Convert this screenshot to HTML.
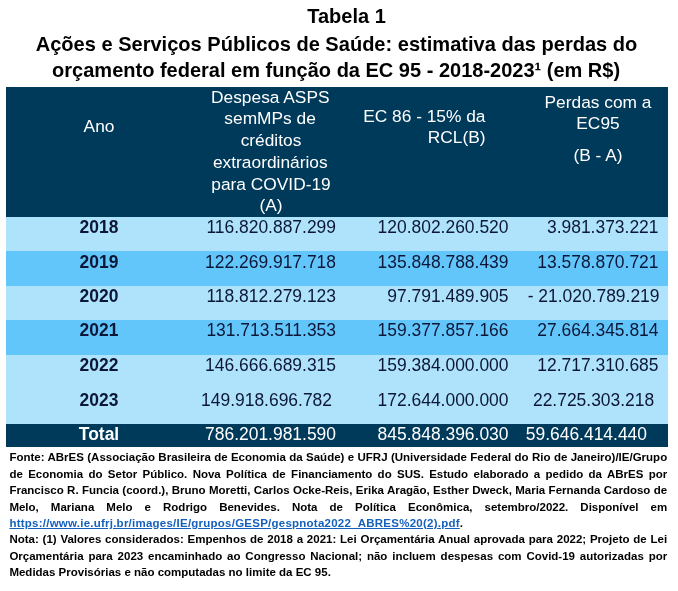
<!DOCTYPE html>
<html lang="pt-BR"><head><meta charset="utf-8"><title>Tabela 1</title>
<style>
html,body{margin:0;padding:0;background:#fff;}
body{width:678px;height:591px;position:relative;overflow:hidden;font-family:"Liberation Sans",Arial,sans-serif;}
.abs{position:absolute;white-space:nowrap;}
.title{font-weight:bold;font-size:20px;line-height:24px;color:#000;text-align:center;left:0;width:673px;}
.bg{position:absolute;left:6px;width:662px;}
.h{color:#fff;font-size:17.33px;line-height:21.6px;text-align:center;}
.n{color:#0c1738;font-size:17.45px;line-height:20px;text-align:right;}
.y{color:#0c1738;font-size:17.45px;line-height:20px;font-weight:bold;text-align:center;left:6px;width:186px;}
.w{color:#fff;}
.f{font-family:"Liberation Sans",Arial,sans-serif;font-weight:bold;font-size:11.5px;line-height:16px;color:#000;left:9.4px;width:657.8px;text-align:justify;text-align-last:justify;}
.f.l{text-align:left;text-align-last:left;}
.f a{color:#1560bd;text-decoration:underline;}
.f.u{letter-spacing:0.24px;}
</style></head><body>

<div class="abs title" style="top:3.7px;left:10px">Tabela 1</div>
<div class="abs title" style="top:31.7px;left:0px;font-size:20.06px">Ações e Serviços Públicos de Saúde: estimativa das perdas do</div>
<div class="abs title" style="top:58.2px;left:-0.4px">orçamento federal em função da EC 95 - 2018-2023¹ (em R$)</div>
<div class="bg" style="top:87px;height:130px;background:#003a5a"></div>
<div class="bg" style="top:217px;height:34px;background:#aee3fb"></div>
<div class="bg" style="top:251px;height:34.5px;background:#63c6fb"></div>
<div class="bg" style="top:285.5px;height:34.5px;background:#aee3fb"></div>
<div class="bg" style="top:320px;height:34.7px;background:#63c6fb"></div>
<div class="bg" style="top:354.7px;height:34.3px;background:#aee3fb"></div>
<div class="bg" style="top:389px;height:34.7px;background:#aee3fb"></div>
<div class="bg" style="top:423.7px;height:23.2px;background:#003a5a"></div>
<div class="abs h" style="left:6px;width:186px;top:116px">Ano</div>
<div class="abs h" style="left:191.3px;width:158px;top:86.5px;line-height:21px">Despesa ASPS</div>
<div class="abs h" style="left:191.1px;width:158px;top:107.5px;line-height:21px">semMPs de</div>
<div class="abs h" style="left:192px;width:158px;top:129.5px;line-height:21px">créditos</div>
<div class="abs h" style="left:191.3px;width:158px;top:151.5px;line-height:21px">extraordinários</div>
<div class="abs h" style="left:192px;width:158px;top:173.5px;line-height:21px">para COVID-19</div>
<div class="abs h" style="left:192px;width:158px;top:194.5px;line-height:21px">(A)</div>
<div class="abs h" style="left:350px;width:135.5px;top:106.2px;line-height:21.2px;text-align:right">EC 86 - 15% da<br>RCL(B)</div>
<div class="abs h" style="left:528px;width:140px;top:92.2px;line-height:21.2px">Perdas com a<br>EC95</div>
<div class="abs h" style="left:528px;width:140px;top:145px">(B - A)</div>
<div class="abs y" style="top:217.0px">2018</div>
<div class="abs n" style="top:217.0px;left:176px;width:160px">116.820.887.299</div>
<div class="abs n" style="top:217.0px;left:348.5px;width:160px">120.802.260.520</div>
<div class="abs n" style="top:217.0px;left:498.5px;width:160px">3.981.373.221</div>
<div class="abs y" style="top:251.5px">2019</div>
<div class="abs n" style="top:251.5px;left:176px;width:160px">122.269.917.718</div>
<div class="abs n" style="top:251.5px;left:348.5px;width:160px">135.848.788.439</div>
<div class="abs n" style="top:251.5px;left:498.5px;width:160px">13.578.870.721</div>
<div class="abs y" style="top:286.0px">2020</div>
<div class="abs n" style="top:286.0px;left:176px;width:160px">118.812.279.123</div>
<div class="abs n" style="top:286.0px;left:348.5px;width:160px">97.791.489.905</div>
<div class="abs n" style="top:286.0px;left:499.5px;width:160px">- 21.020.789.219</div>
<div class="abs y" style="top:320.2px">2021</div>
<div class="abs n" style="top:320.2px;left:176px;width:160px">131.713.511.353</div>
<div class="abs n" style="top:320.2px;left:348.5px;width:160px">159.377.857.166</div>
<div class="abs n" style="top:320.2px;left:498.5px;width:160px">27.664.345.814</div>
<div class="abs y" style="top:355.0px">2022</div>
<div class="abs n" style="top:355.0px;left:176px;width:160px">146.666.689.315</div>
<div class="abs n" style="top:355.0px;left:348.5px;width:160px">159.384.000.000</div>
<div class="abs n" style="top:355.0px;left:498.5px;width:160px">12.717.310.685</div>
<div class="abs y" style="top:389.8px">2023</div>
<div class="abs n" style="top:389.8px;left:172px;width:160px">149.918.696.782</div>
<div class="abs n" style="top:389.8px;left:348.5px;width:160px">172.644.000.000</div>
<div class="abs n" style="top:389.8px;left:494.2px;width:160px">22.725.303.218</div>
<div class="abs y w" style="top:423.8px">Total</div>
<div class="abs n w" style="top:423.8px;left:176px;width:160px">786.201.981.590</div>
<div class="abs n w" style="top:423.8px;left:348.5px;width:160px">845.848.396.030</div>
<div class="abs n w" style="top:423.8px;left:487px;width:160px">59.646.414.440</div>
<div class="abs f" style="top:448.8px">Fonte: ABrES (Associação Brasileira de Economia da Saúde) e UFRJ (Universidade Federal do Rio de Janeiro)/IE/Grupo</div>
<div class="abs f" style="top:466.0px">de Economia do Setor Público. Nova Política de Financiamento do SUS. Estudo elaborado a pedido da ABrES por</div>
<div class="abs f" style="top:481.9px">Francisco R. Funcia (coord.), Bruno Moretti, Carlos Ocke-Reis, Erika Aragão, Esther Dweck, Maria Fernanda Cardoso de</div>
<div class="abs f" style="top:499.0px">Melo, Mariana Melo e Rodrigo Benevides. Nota de Política Econômica, setembro/2022. Disponível em</div>
<div class="abs f l u" style="top:514.8px"><a>https://www.ie.ufrj.br/images/IE/grupos/GESP/gespnota2022_ABRES%20(2).pdf</a>.</div>
<div class="abs f" style="top:531.2px">Nota: (1) Valores considerados: Empenhos de 2018 a 2021: Lei Orçamentária Anual aprovada para 2022; Projeto de Lei</div>
<div class="abs f" style="top:547.5px">Orçamentária para 2023 encaminhado ao Congresso Nacional; não incluem despesas com Covid-19 autorizadas por</div>
<div class="abs f l" style="top:563.6px">Medidas Provisórias e não computadas no limite da EC 95.</div>
</body></html>
